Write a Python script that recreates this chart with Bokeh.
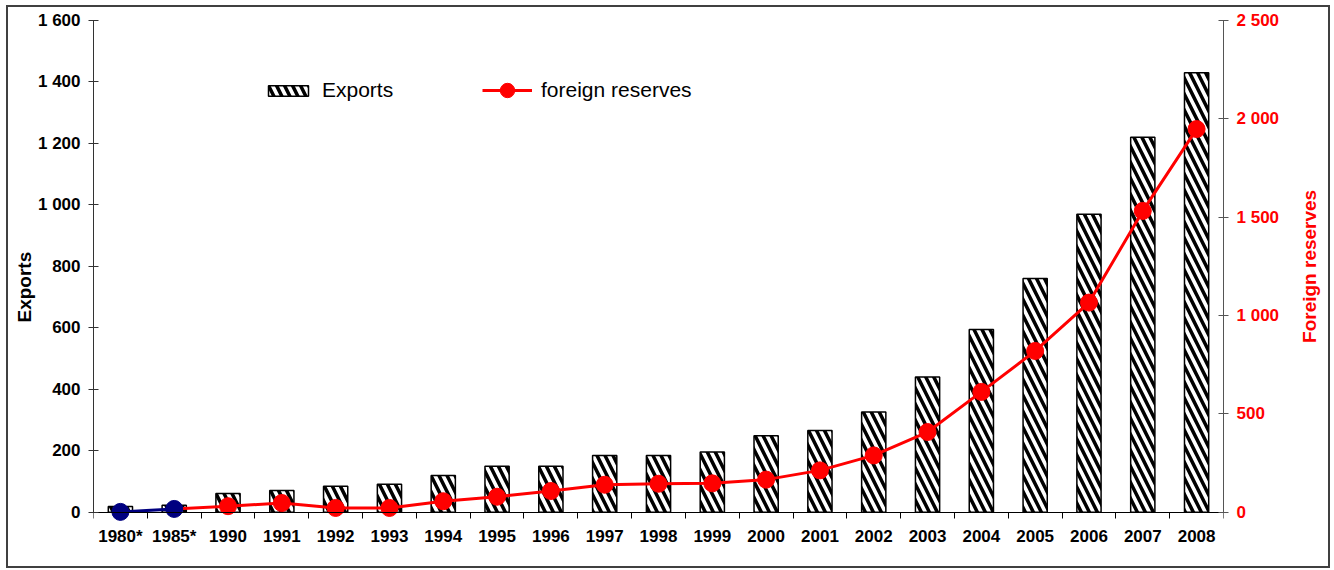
import math
from bokeh.plotting import figure
from bokeh.layouts import row
from bokeh.models import Range1d, LinearAxis, FixedTicker, Legend, LegendItem, Title
from bokeh.core.properties import value
from bokeh.embed import file_html
from bokeh.resources import INLINE

years = ["1980*", "1985*", "1990", "1991", "1992", "1993", "1994", "1995", "1996",
         "1997", "1998", "1999", "2000", "2001", "2002", "2003", "2004", "2005",
         "2006", "2007", "2008"]
exports = [19, 23, 61, 71, 85, 91, 120, 150, 150, 185, 185, 196, 249, 266, 326,
           440, 595, 761, 970, 1220, 1430]
reserves = [2, 17, 31, 47, 22, 22, 56, 79, 108, 140, 145, 147, 166, 213, 289,
            408, 612, 820, 1066, 1532, 1948]

left_ticks = [0, 200, 400, 600, 800, 1000, 1200, 1400, 1600]
left_labels = ["0", "200", "400", "600", "800", "1 000", "1 200", "1 400", "1 600"]
right_ticks = [0, 500, 1000, 1500, 2000, 2500]
right_labels = ["0", "500", "1 000", "1 500", "2 000", "2 500"]

xs = list(range(1, len(years) + 1))
FONT = "Liberation Sans"
LEFT_MAX, RIGHT_MAX = 1600, 2500
PAD = 30  # room below zero so the markers are not cut

p = figure(width=1286, height=559, output_backend="svg", toolbar_location=None,
           x_range=Range1d(0.5, len(years) + 0.5),
           y_range=Range1d(-PAD, LEFT_MAX),
           min_border_left=85, min_border_right=71, min_border_top=13,
           min_border_bottom=45)
p.outline_line_color = None
p.xgrid.visible = False
p.ygrid.visible = False
p.extra_y_ranges = {"res": Range1d(-PAD * RIGHT_MAX / LEFT_MAX, RIGHT_MAX)}

bars = p.vbar(x=xs, top=exports, width=0.45, fill_color="white",
              line_color="black", line_width=1.5,
              hatch_pattern="\\", hatch_color="black", hatch_weight=3.5,
              hatch_scale=16)

red_line = p.line(xs[1:], reserves[1:], line_color="#ff0000", line_width=3,
                  y_range_name="res")
red_dots = p.scatter(xs[2:], reserves[2:], size=17, fill_color="#ff0000",
                     line_color="#ff0000", y_range_name="res")
p.line(xs[:2], reserves[:2], line_color="#000080", line_width=3, y_range_name="res")
p.scatter(xs[:2], reserves[:2], size=17, fill_color="#000080", line_color="#000080",
          y_range_name="res")

# x axis labels (at frame bottom, no line)
xa = p.xaxis[0]
xa.ticker = FixedTicker(ticks=xs)
xa.major_label_overrides = {x: y for x, y in zip(xs, years)}
xa.major_tick_in = 0
xa.major_tick_out = 0
xa.minor_tick_line_color = None
xa.axis_line_color = None
xa.major_label_standoff = 5
xa.major_label_text_font = FONT
xa.major_label_text_font_style = "bold"
xa.major_label_text_font_size = "17px"
xa.major_label_text_color = "black"

# x axis line and category-boundary ticks at zero
xz = LinearAxis(fixed_location=0,
                ticker=FixedTicker(ticks=[], minor_ticks=[x - 0.5 for x in xs] + [xs[-1] + 0.5]))
xz.major_tick_in = 0
xz.major_tick_out = 0
xz.minor_tick_in = 0
xz.minor_tick_out = 6
xz.minor_tick_line_color = "black"
xz.axis_line_color = "black"
p.add_layout(xz, "below")

# left axis
ya = p.yaxis[0]
ya.bounds = (0, LEFT_MAX)
ya.ticker = FixedTicker(ticks=left_ticks)
ya.major_label_overrides = {t: l for t, l in zip(left_ticks, left_labels)}
ya.minor_tick_line_color = None
ya.major_tick_in = 5
ya.major_tick_out = 5
ya.major_tick_line_color = "#333333"
ya.axis_line_color = "#333333"
ya.major_label_standoff = 8
ya.major_label_text_font = FONT
ya.major_label_text_font_style = "bold"
ya.major_label_text_font_size = "17px"
ya.major_label_text_color = "black"

p.add_layout(Title(text="Exports", align="left", offset=199,
                   text_font=FONT, text_font_style="bold", text_font_size="19px",
                   text_color="black", standoff=0), "left")

# right axis
ra = LinearAxis(y_range_name="res", ticker=FixedTicker(ticks=right_ticks),
                bounds=(0, RIGHT_MAX))
ra.major_label_overrides = {t: l for t, l in zip(right_ticks, right_labels)}
ra.minor_tick_line_color = None
ra.major_tick_in = 5
ra.major_tick_out = 5
ra.major_tick_line_color = "#555555"
ra.axis_line_color = "#555555"
ra.major_label_standoff = 8
ra.major_label_text_font = FONT
ra.major_label_text_font_style = "bold"
ra.major_label_text_font_size = "17px"
ra.major_label_text_color = "#ff0000"
p.add_layout(ra, "right")

def make_legend(item, loc, gh):
    lg = Legend(items=[item], location=loc, orientation="horizontal",
                border_line_color=None, background_fill_alpha=0,
                padding=0, margin=0, glyph_width=50, glyph_height=gh,
                label_standoff=9, label_text_font=FONT,
                label_text_font_size="21px", label_text_color="black",
                label_height=20)
    p.add_layout(lg, "center")

make_legend(LegendItem(label="Exports", renderers=[bars]), (170, 419), 13)
make_legend(LegendItem(label="foreign reserves", renderers=[red_line, red_dots]),
            (389, 413), 36)

# strip to the right holding the right-hand axis title, reading bottom to top
p2 = figure(width=34, height=559, output_backend="svg", toolbar_location=None,
            x_range=Range1d(0, 1), y_range=p.y_range,
            x_axis_location=None, y_axis_location=None,
            min_border_left=0, min_border_right=0, min_border_top=13,
            min_border_bottom=45)
p2.outline_line_color = None
p2.grid.visible = False
p2.text(x=[0.45], y=[LEFT_MAX / 2], text=["Foreign reserves"], angle=math.pi / 2,
        text_align="center", text_baseline="middle", text_font=value(FONT),
        text_font_style="bold", text_font_size="19px", text_color="#ff0000")

layout = row(p, p2)
layout.styles = {"border": "2px solid #404040", "margin-left": "6px", "margin-top": "5px"}

open("out.html", "w").write(file_html(layout, INLINE))
